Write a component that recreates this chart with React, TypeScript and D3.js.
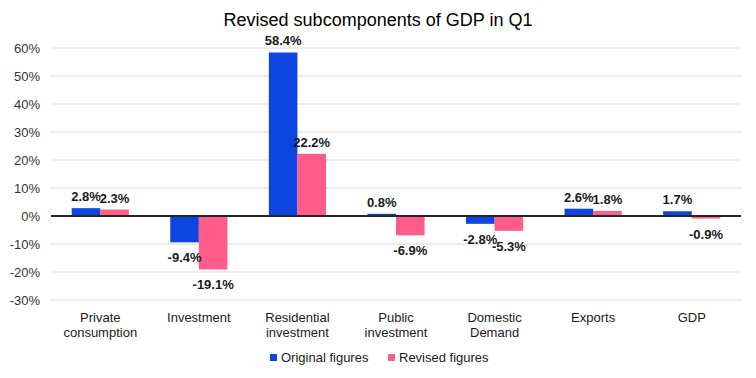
import React from "react";
import * as d3 from "d3";

const categories = [
  ["Private", "consumption"],
  ["Investment"],
  ["Residential", "investment"],
  ["Public", "investment"],
  ["Domestic", "Demand"],
  ["Exports"],
  ["GDP"],
];
const original = [2.8, -9.4, 58.4, 0.8, -2.8, 2.6, 1.7];
const revised = [2.3, -19.1, 22.2, -6.9, -5.3, 1.8, -0.9];
const yTicks = [60, 50, 40, 30, 20, 10, 0, -10, -20, -30];
const seriesNames = ["Original figures", "Revised figures"];
const colors = ["#0C45E0", "#FF5C8A"];

export default function App() {
  const W = 756, H = 378;
  const left = 51, right = 741, top = 48, bottom = 300;
  const x = d3.scaleBand<number>().domain(d3.range(categories.length)).range([left, right]).paddingInner(0.42).paddingOuter(0.21);
  const x1 = d3.scaleBand<number>().domain([0, 1]).range([0, x.bandwidth()]);
  const y = d3.scaleLinear().domain([-30, 60]).range([bottom, top]);
  const font = "Liberation Sans, Arial, sans-serif";
  const series = [original, revised];
  return (
    <svg width={W} height={H} style={{ position: "absolute", left: 0, top: 0 }} fontFamily={font}>
      <rect width={W} height={H} fill="#fff" />
      <text x={W / 2} y={26} textAnchor="middle" fontSize={18} fill="#000">Revised subcomponents of GDP in Q1</text>
      {yTicks.map((t) => (
        <g key={t}>
          {t !== 0 && <line x1={left} x2={right} y1={y(t)} y2={y(t)} stroke="#d9d9d9" strokeWidth={1} />}
          <text x={40} y={y(t) + 4.5} textAnchor="end" fontSize={13} fill="#333">{t}%</text>
        </g>
      ))}
      {series.map((vals, s) =>
        vals.map((v, i) => {
          const bx = (x(i) as number) + (x1(s) as number);
          const bw = x1.bandwidth();
          return (
            <rect key={`${s}-${i}`} x={bx} width={bw} y={y(Math.max(0, v))} height={Math.abs(y(v) - y(0))} fill={colors[s]} />
          );
        })
      )}
      <line x1={left} x2={right} y1={y(0)} y2={y(0)} stroke="#262626" strokeWidth={2} />
      {series.map((vals, s) =>
        vals.map((v, i) => {
          const cx = (x(i) as number) + (x1(s) as number) + x1.bandwidth() / 2;
          const ly = v >= 0 ? y(v) - 7 : y(v) + 20;
          return (
            <text key={`l${s}-${i}`} x={cx} y={ly} textAnchor="middle" fontSize={13} fontWeight="bold" fill="#1a1a1a">
              {v.toFixed(1)}%
            </text>
          );
        })
      )}
      {categories.map((lines, i) => (
        <text key={`c${i}`} x={(x(i) as number) + x.bandwidth() / 2} textAnchor="middle" fontSize={13} fill="#1a1a1a">
          {lines.map((ln, k) => (
            <tspan key={k} x={(x(i) as number) + x.bandwidth() / 2} y={322 + k * 15}>{ln}</tspan>
          ))}
        </text>
      ))}
      {seriesNames.map((n, s) => {
        const lx = s === 0 ? 270 : 388;
        return (
          <g key={n}>
            <rect x={lx} y={354} width={7} height={7} fill={colors[s]} />
            <text x={lx + 11} y={362} fontSize={13} fill="#1a1a1a">{n}</text>
          </g>
        );
      })}
    </svg>
  );
}
